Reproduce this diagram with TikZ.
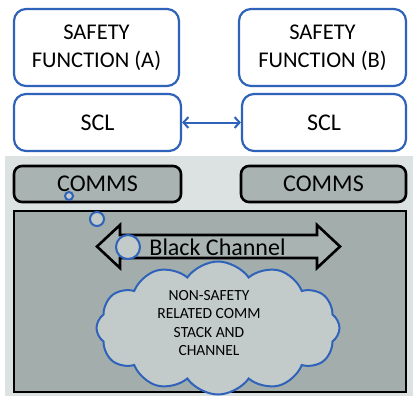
\documentclass[tikz,border=0pt]{standalone}
\usepackage{fontspec}
\setmainfont{Carlito}
\usetikzlibrary{shapes.symbols,positioning,arrows.meta}
\definecolor{sclblue}{HTML}{2F62B9}
\definecolor{bandgray}{HTML}{DCE2E2}
\definecolor{commsgray}{HTML}{A9B4B2}
\definecolor{stackgray}{HTML}{A3AEAC}
\definecolor{cloudgray}{HTML}{C3CBCA}
\begin{document}
\begin{tikzpicture}[x=1pt,y=-1pt]
\tikzstyle{every node}+=[inner sep=0pt]
\tikzstyle{funcbox}=[draw=sclblue,line width=2.2pt,rounded corners=12pt,fill=white,align=center,font=\fontsize{22.5}{28}\selectfont]
\tikzstyle{commsbox}=[draw=black,line width=2.6pt,rounded corners=8pt,fill=commsgray,font=\fontsize{24}{28}\selectfont]
\tikzstyle{bubble}=[draw=sclblue,line width=2pt,fill=cloudgray]
\useasboundingbox (0,0) rectangle (417,396);
\fill [bandgray] (5,156) rectangle (413,396);
\node [funcbox,minimum width=165pt,minimum height=77pt] (safeA) at (96.5,47.5) {SAFETY\\FUNCTION (A)};
\node [funcbox,minimum width=167pt,minimum height=77pt] (safeB) at (322.5,47.5) {SAFETY\\FUNCTION (B)};
\node [funcbox,minimum width=167pt,minimum height=57pt,font=\fontsize{24}{28}\selectfont] (sclA) at (97.5,122.5) {SCL};
\node [funcbox,minimum width=164pt,minimum height=57pt,font=\fontsize{24}{28}\selectfont] (sclB) at (324,122.5) {SCL};
\draw [sclblue,line width=2pt,{Straight Barb[length=5pt,width=11pt]}-{Straight Barb[length=5pt,width=11pt]}] (sclA.east) -- (sclB.west);
\node [commsbox,minimum width=167pt,minimum height=36pt] (commsA) at (97.5,184) {COMMS};
\node [commsbox,minimum width=165pt,minimum height=36pt] (commsB) at (323.5,184) {COMMS};
\node [draw=black,line width=2.6pt,fill=stackgray,minimum width=392pt,minimum height=181pt] (stack) at (210,301.5) {};
\draw [black,line width=2.6pt,line join=miter,fill=commsgray] (97,246.5) -- (120,225) -- (120,235) -- (317,235) -- (317,225) -- (340,246.5) -- (317,268) -- (317,258) -- (120,258) -- (120,268) -- cycle;
\node [font=\fontsize{24}{28}\selectfont] (black) at (217.5,247) {Black Channel};
\node [cloud,cloud puffs=12,cloud puff arc=110,draw=sclblue,line width=2pt,fill=cloudgray,minimum width=243pt,minimum height=133pt] (nonsafe) at (218,328) {};
\node [align=center,font=\fontsize{15.5}{18.3}\selectfont] (nstext) at (209,323) {NON-SAFETY\\RELATED COMM\\STACK AND\\CHANNEL};
\draw [bubble] (69,196) circle (4);
\draw [bubble] (97,219) circle (7);
\draw [bubble] (128,247) circle (12);
\end{tikzpicture}
\end{document}
